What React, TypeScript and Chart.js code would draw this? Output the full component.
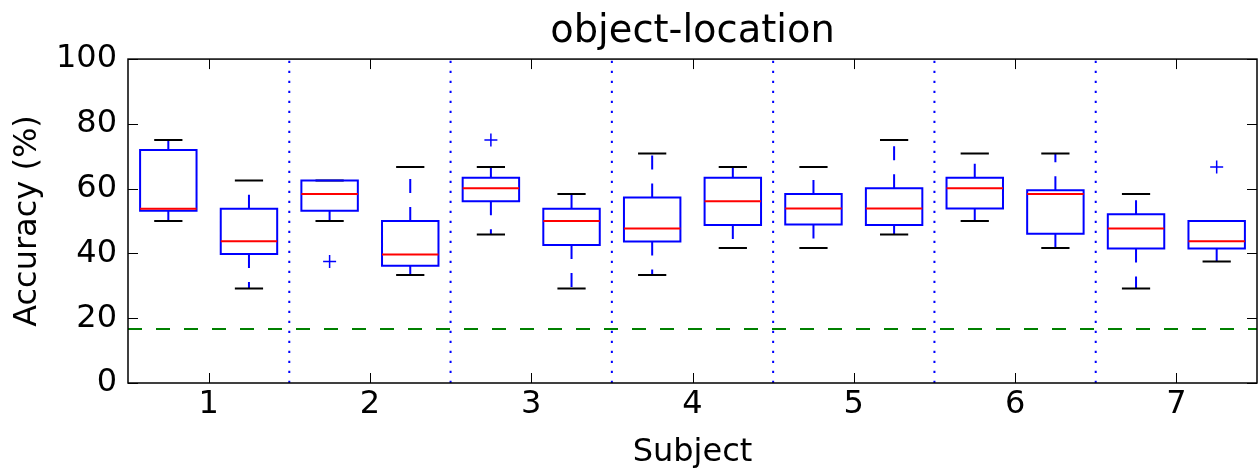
import React, { useEffect, useRef } from 'react';
import { Chart, registerables } from 'chart.js';

Chart.register(...registerables);

// ---- data ----
const subjects = [1, 2, 3, 4, 5, 6, 7];
const xTickLabels = ['1', '2', '3', '4', '5', '6', '7'];
const yTicks = [0, 20, 40, 60, 80, 100];
const groupOffsets = [-0.25, 0.25];
// one entry per box: subject 1 (a, b), subject 2 (a, b), ...
const whiskerLow = [50, 29.17, 50, 33.33, 45.83, 29.17, 33.33, 41.67, 41.67, 45.83, 50, 41.67, 29.17, 37.5];
const q1 = [53.2, 39.8, 53.2, 36.2, 56.1, 42.6, 43.7, 48.8, 48.9, 48.8, 53.9, 46.1, 41.5, 41.5];
const median = [53.8, 43.75, 58.33, 39.7, 60.1, 50, 47.7, 56.1, 53.9, 53.9, 60.1, 58.33, 47.7, 43.75];
const q3 = [71.9, 53.8, 62.5, 50, 63.4, 53.8, 57.3, 63.4, 58.33, 60.1, 63.4, 59.5, 52.1, 50];
const whiskerHigh = [75, 62.5, 62.5, 66.67, 66.67, 58.33, 70.83, 66.67, 66.67, 75, 70.83, 70.83, 58.33, 50];
const outliers: number[][] = [[], [], [37.5], [], [75], [], [], [], [], [], [], [], [], [66.67]];
const chanceLevel = 16.67;

// ---- styles ----
const HALF_BOX = 0.175;
const HALF_CAP = 0.0875;
const FONT = 'DejaVu Sans';
const BLUE = '#0000ff';

const positions = subjects.flatMap((s) => groupOffsets.map((o) => s + o));

const framePlugin = {
  id: 'frameTicks',
  afterDatasetsDraw(chart: any) {
    const { ctx, chartArea: a, scales } = chart;
    ctx.save();
    ctx.strokeStyle = '#000';
    ctx.lineWidth = 1;
    ctx.beginPath();
    const tl = 10;
    subjects.forEach((s) => {
      const px = Math.round(scales.x.getPixelForValue(s)) + 0.5;
      ctx.moveTo(px, a.bottom);
      ctx.lineTo(px, a.bottom - tl);
      ctx.moveTo(px, a.top);
      ctx.lineTo(px, a.top + tl);
    });
    yTicks.forEach((v) => {
      const py = Math.round(scales.y.getPixelForValue(v)) + 0.5;
      ctx.moveTo(a.left, py);
      ctx.lineTo(a.left + tl, py);
      ctx.moveTo(a.right, py);
      ctx.lineTo(a.right - tl, py);
    });
    ctx.stroke();
    ctx.lineWidth = 1.5;
    ctx.strokeRect(a.left, a.top, a.right - a.left, a.bottom - a.top);
    ctx.restore();
  },
};

export default function App() {
  const ref = useRef<HTMLCanvasElement | null>(null);

  useEffect(() => {
    if (!ref.current) return;

    const boxPts = positions.flatMap((p, i) => [
      { x: p - HALF_BOX, y: q1[i] },
      { x: p + HALF_BOX, y: q1[i] },
      { x: p + HALF_BOX, y: q3[i] },
      { x: p - HALF_BOX, y: q3[i] },
      { x: p - HALF_BOX, y: q1[i] },
      { x: p, y: null },
    ]);
    const medPts = positions.flatMap((p, i) => [
      { x: p - HALF_BOX, y: median[i] },
      { x: p + HALF_BOX, y: median[i] },
      { x: p, y: null },
    ]);
    const capPts = positions.flatMap((p, i) => [
      { x: p - HALF_CAP, y: whiskerLow[i] },
      { x: p + HALF_CAP, y: whiskerLow[i] },
      { x: p, y: null },
      { x: p - HALF_CAP, y: whiskerHigh[i] },
      { x: p + HALF_CAP, y: whiskerHigh[i] },
      { x: p, y: null },
    ]);
    const whiskerPts = positions.flatMap((p, i) => [
      { x: p, y: q3[i] },
      { x: p, y: whiskerHigh[i] },
      { x: p, y: null },
      { x: p, y: q1[i] },
      { x: p, y: whiskerLow[i] },
      { x: p, y: null },
    ]);
    const outlierPts = positions.flatMap((p, i) => outliers[i].map((v) => ({ x: p, y: v })));
    const chancePts = [
      { x: 0.5, y: chanceLevel },
      { x: 7.5, y: chanceLevel },
    ];
    const sepPts = subjects.slice(0, -1).flatMap((s) => [
      { x: s + 0.5, y: 0 },
      { x: s + 0.5, y: 100 },
      { x: s + 0.5, y: null },
    ]);

    const common = { pointRadius: 0, fill: false, tension: 0, spanGaps: false };

    const chart = new Chart(ref.current, {
      type: 'line',
      data: {
        datasets: [
          { ...common, data: medPts, borderColor: '#ff0000', borderWidth: 2 },
          { ...common, data: boxPts, borderColor: BLUE, borderWidth: 2, borderCapStyle: 'square', borderJoinStyle: 'miter' },
          { ...common, data: capPts, borderColor: '#000000', borderWidth: 2 },
          { ...common, data: whiskerPts, borderColor: BLUE, borderWidth: 2, borderDash: [14, 14] },
          {
            data: outlierPts,
            showLine: false,
            pointStyle: 'cross',
            pointRadius: 6.5,
            pointBorderWidth: 1.5,
            pointBorderColor: BLUE,
            borderColor: BLUE,
          },
          { ...common, data: chancePts, borderColor: '#008000', borderWidth: 2, borderDash: [14, 14] },
          { ...common, data: sepPts, borderColor: BLUE, borderWidth: 2, borderDash: [2.3, 7.7] },
        ] as any,
      },
      options: {
        responsive: false,
        animation: false,
        devicePixelRatio: 1,
        events: [],
        layout: { autoPadding: false, padding: { left: 0, right: 1, top: 0, bottom: 0 } },
        plugins: {
          legend: { display: false },
          tooltip: { enabled: false },
          title: {
            display: true,
            text: 'object-location',
            fullSize: false,
            color: '#000',
            font: { family: FONT, size: 38.4, weight: 'normal', lineHeight: 1.2 },
            padding: { top: 9, bottom: 4 },
          },
        },
        scales: {
          x: {
            type: 'linear',
            min: 0.5,
            max: 7.5,
            grid: { display: false, drawTicks: false },
            border: { display: false },
            afterBuildTicks: (scale: any) => {
              scale.ticks = subjects.map((v) => ({ value: v }));
            },
            afterFit: (scale: any) => {
              scale.height = 90;
              scale.paddingLeft = 0;
              scale.paddingRight = 0;
            },
            ticks: {
              color: '#000',
              padding: 2,
              font: { family: FONT, size: 32 },
              callback: (v: any) => xTickLabels[subjects.indexOf(Number(v))] ?? '',
            },
            title: {
              display: true,
              text: 'Subject',
              color: '#000',
              font: { family: FONT, size: 32 },
              padding: { top: 0, bottom: 1 },
            },
          },
          y: {
            type: 'linear',
            min: 0,
            max: 100,
            grid: { display: false, drawTicks: false },
            border: { display: false },
            afterBuildTicks: (scale: any) => {
              scale.ticks = yTicks.map((v) => ({ value: v }));
            },
            afterFit: (scale: any) => {
              scale.width = 128;
              scale.paddingTop = 0;
              scale.paddingBottom = 0;
            },
            ticks: {
              color: '#000',
              padding: 11,
              font: { family: FONT, size: 32 },
            },
            title: {
              display: true,
              text: 'Accuracy (%)',
              color: '#000',
              font: { family: FONT, size: 32 },
              padding: { top: 8, bottom: 0 },
            },
          },
        },
      } as any,
      plugins: [framePlugin],
    });

    return () => chart.destroy();
  }, []);

  return (
    <div style={{ position: 'absolute', left: 0, top: 0, width: 1258, height: 473, background: '#fff' }}>
      <canvas ref={ref} width={1258} height={473} style={{ display: 'block' }} />
    </div>
  );
}
